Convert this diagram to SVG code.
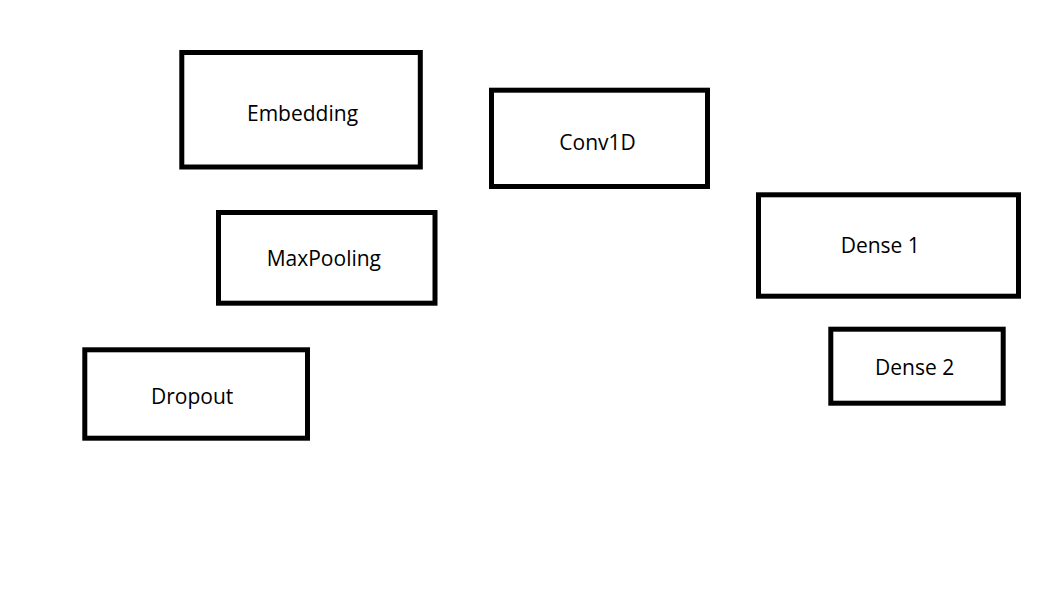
<svg xmlns="http://www.w3.org/2000/svg" width="1060" height="589" viewBox="0 0 1060 589">
<style>
.box{fill:#fff;stroke:#000;stroke-width:5}
.lbl{font-family:"Open Sans","Noto Sans",sans-serif;font-size:21px;fill:#000}
</style>
<rect x="0" y="0" width="1060" height="589" fill="#fff"/>
<g id="connectors"></g>
<g id="embedding"><rect class="box" x="181.8" y="52.5" width="238.5" height="114.5"/><text class="lbl" x="247" y="121">Embedding</text></g>
<g id="conv1d"><rect class="box" x="491.5" y="90.2" width="216" height="96.3"/><text class="lbl" x="559.3" y="150">Conv1D</text></g>
<g id="maxpooling"><rect class="box" x="218.5" y="212.5" width="216.5" height="90.7"/><text class="lbl" x="266.7" y="266">MaxPooling</text></g>
<g id="dense1"><rect class="box" x="758.5" y="194.8" width="260" height="101.4"/><text class="lbl" x="840.7" y="253.3">Dense 1</text></g>
<g id="dense2"><rect class="box" x="830.8" y="329.2" width="172.4" height="74"/><text class="lbl" x="875" y="375">Dense 2</text></g>
<g id="dropout"><rect class="box" x="84.8" y="349.8" width="222.7" height="88.4"/><text class="lbl" x="151" y="404">Dropout</text></g>
</svg>
